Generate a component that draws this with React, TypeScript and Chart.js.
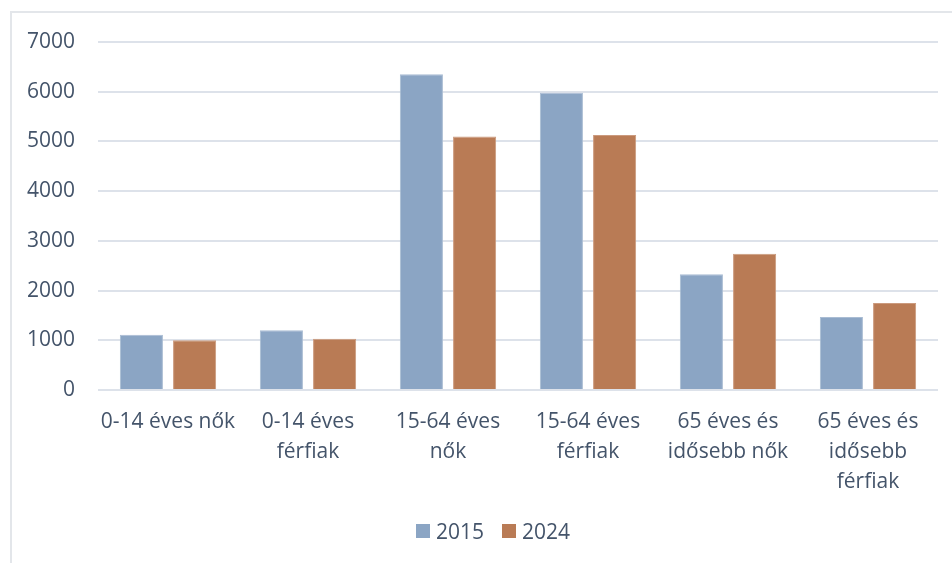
import React, { useEffect, useRef } from "react";
import { Chart, registerables } from "chart.js";

Chart.register(...registerables);

const categories: (string | string[])[] = [
  "0-14 éves nők",
  ["0-14 éves", "férfiak"],
  ["15-64 éves", "nők"],
  ["15-64 éves", "férfiak"],
  ["65 éves és", "idősebb nők"],
  ["65 éves és", "idősebb", "férfiak"],
];
const values2015 = [1110, 1200, 6350, 5980, 2330, 1470];
const values2024 = [1000, 1030, 5100, 5130, 2740, 1750];
const seriesNames = ["2015", "2024"];
const seriesColors = ["#8BA5C4", "#B97B55"];
const seriesBorders = ["#A9BCD3", "#CB9A7E"];
const yTicks = [0, 1000, 2000, 3000, 4000, 5000, 6000, 7000];

const TEXT = "#44546A";
const GRID = "#DDE2EA";
const FONT = "'Open Sans', sans-serif";

export default function App() {
  const ref = useRef<HTMLCanvasElement | null>(null);
  useEffect(() => {
    if (!ref.current) return;
    const seriesData = [values2015, values2024];
    const chart = new Chart(ref.current, {
      type: "bar",
      data: {
        labels: categories,
        datasets: seriesNames.map((name, i) => ({
          label: name,
          data: seriesData[i],
          backgroundColor: seriesColors[i],
          borderColor: seriesBorders[i],
          borderWidth: 1,
          categoryPercentage: 0.76,
          barPercentage: 0.81,
        })),
      },
      options: {
        responsive: false,
        animation: false,
        layout: { padding: { left: 27, right: 14, top: 42, bottom: 0 } },
        plugins: {
          legend: { display: false },
          tooltip: { enabled: false },
        },
        scales: {
          x: {
            grid: { display: false, drawTicks: false },
            border: { display: false },
            afterFit: (s: any) => {
              s.paddingLeft = 0;
              s.paddingRight = 0;
              s.height = 173;
            },
            ticks: {
              color: TEXT,
              font: { family: FONT, size: 21, lineHeight: 1.43 },
              padding: 17,
              maxRotation: 0,
              autoSkip: false,
            },
          },
          y: {
            min: 0,
            max: 7000,
            afterBuildTicks: (axis: any) => {
              axis.ticks = yTicks.map((v) => ({ value: v }));
            },
            afterFit: (s: any) => {
              s.width = 71;
            },
            grid: { color: GRID, lineWidth: 2, drawTicks: false },
            border: { display: false },
            ticks: {
              color: TEXT,
              font: { family: FONT, size: 21 },
              padding: 23,
              callback: (v: any) => String(v),
            },
          },
        },
      },
    });
    return () => chart.destroy();
  }, []);
  return (
    <div style={{ position: "fixed", left: 0, top: 0, width: 952, height: 563, background: "#fff", overflow: "hidden" }}>
      <div
        style={{
          position: "absolute",
          left: 10,
          top: 11,
          width: 1000,
          height: 700,
          border: "2px solid #E3E6EA",
          boxSizing: "border-box",
        }}
      />
      <canvas ref={ref} width={952} height={563} style={{ position: "absolute", left: 0, top: 0 }} />
      <div
        style={{
          position: "absolute",
          left: 416,
          top: 516,
          height: 30,
          display: "flex",
          alignItems: "center",
          fontFamily: FONT,
          fontSize: 21,
          color: TEXT,
          lineHeight: "30px",
        }}
      >
        {seriesNames.map((name, i) => (
          <div key={name} style={{ display: "flex", alignItems: "center", marginRight: i === 0 ? 18 : 0 }}>
            <span style={{ display: "inline-block", width: 14, height: 14, background: seriesColors[i], marginRight: 6 }} />
            <span>{name}</span>
          </div>
        ))}
      </div>
    </div>
  );
}
